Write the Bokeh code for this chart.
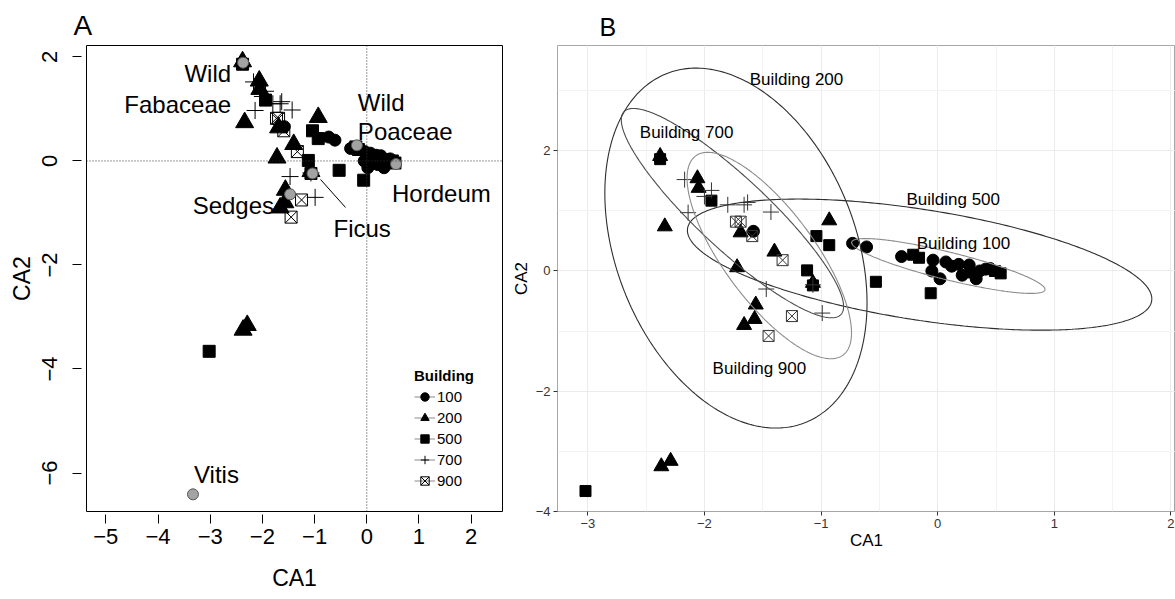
import numpy as np
from bokeh.plotting import figure
from bokeh.models import Range1d, FixedTicker, Span, Legend, LegendItem
from bokeh.layouts import row
from bokeh.embed import file_html
from bokeh.resources import INLINE
from bokeh.core.properties import value

# ---------------- data ----------------
buildings = ["100", "200", "500", "700", "900"]

b100_x = [-1.58, -0.73, -0.61, -0.31, -0.04, -0.05, 0.02, 0.07, 0.12, 0.18, 0.21, 0.27, 0.28, 0.33, 0.36, 0.41, 0.45]
b100_y = [0.66, 0.46, 0.40, 0.24, 0.18, 0.00, -0.13, 0.15, 0.08, 0.11, -0.07, 0.10, -0.02, -0.13, 0.00, 0.03, 0.04]

b200_x = [-2.38, -2.06, -2.05, -2.34, -1.69, -1.40, -1.72, -0.93, -1.07, -1.56, -1.57, -1.66, -2.37, -2.29]
b200_y = [1.91, 1.54, 1.38, 0.74, 0.64, 0.32, 0.06, 0.84, -0.20, -0.56, -0.80, -0.90, -3.25, -3.16]

b500_x = [-2.38, -1.94, -1.04, -0.93, -1.12, -1.07, -0.53, -0.21, -0.16, -0.06, 0.49, 0.54, -3.02]
b500_y = [1.86, 1.17, 0.58, 0.43, 0.01, -0.24, -0.18, 0.27, 0.22, -0.37, 0.00, -0.04, -3.66]

b700_x = [-2.17, -1.94, -2.00, -1.80, -1.66, -1.63, -1.43, -2.14, -1.47, -1.07, -0.99]
b700_y = [1.52, 1.34, 1.24, 1.10, 1.10, 1.14, 0.98, 0.97, -0.30, -0.23, -0.70]

b900_x = [-1.73, -1.69, -1.59, -1.33, -1.25, -1.45]
b900_y = [0.82, 0.82, 0.58, 0.18, -0.75, -1.08]

species = ["Wild Fabaceae", "Wild Poaceae", "Hordeum", "Ficus", "Sedges", "Vitis"]
sp_x = [-2.37, -0.19, 0.56, -1.04, -1.47, -3.33]
sp_y = [1.89, 0.30, -0.06, -0.24, -0.64, -6.41]

# 95% ellipses (panel B): centre, half-extent in x and y, y-shift at the x-extreme
ell_names = ["Building 100", "Building 200", "Building 500", "Building 700", "Building 900"]
ell_cx = [0.091, -1.730, -0.155, -1.760, -1.444]
ell_cy = [0.083, 0.381, 0.106, 0.962, 0.257]
ell_rx = [0.829, 1.124, 1.991, 0.953, 0.705]
ell_ry = [0.456, 2.993, 1.090, 1.741, 1.716]
ell_ky = [-0.390, -0.912, -0.570, -1.552, -1.285]

xticks_a = [-5, -4, -3, -2, -1, 0, 1, 2]
yticks_a = [-6, -4, -2, 0, 2]
xticks_b = [-3, -2, -1, 0, 1, 2]
yticks_b = [-4, -2, 0, 2]

# ---------------- layout / style ----------------
FONT = "Liberation Sans"
W_A, W_B, H = 508, 667, 599

def lab(v):
    return ("\u2212" + str(abs(v))) if v < 0 else str(v)

# species label layout (text, species index, dx px, dy px, align)
sp_labels = [("Wild", 0, -12, 11, "right"), ("Fabaceae", 0, -12, 42, "right"),
             ("Wild", 1, 1, -43, "left"), ("Poaceae", 1, 1, -14, "left"),
             ("Hordeum", 2, -4, 29, "left"), ("Ficus", 3, 21, 55, "left"),
             ("Sedges", 4, -16, 11, "right"), ("Vitis", 5, 1, -20, "left")]
ell_label_x = [0.221, -1.211, 0.133, -2.153, -1.529]
ell_label_y = [0.456, 3.19, 1.181, 2.308, -1.619]
ell_colors = ["#8c8c8c", "#2e2e2e", "#2e2e2e", "#4a4a4a", "#8c8c8c"]

# ================= Panel A =================
xa0, xa1, ya0, ya1 = -5.37, 2.6, -6.74, 2.22
mbl, mbr, mbt, mbb = 86, 6, 45, 88
pa = figure(width=W_A, height=H, x_range=Range1d(xa0, xa1), y_range=Range1d(ya0, ya1),
            output_backend="svg", toolbar_location=None, title="A",
            min_border_left=mbl, min_border_right=mbr, min_border_top=mbt, min_border_bottom=mbb)
pa.title.align = "left"
pa.title.offset = -13
pa.title.text_font = FONT
pa.title.text_font_size = "28px"
pa.title.text_font_style = "normal"
pa.title.text_color = "black"
pa.title.standoff = 9
pa.xgrid.visible = False
pa.ygrid.visible = False
pa.outline_line_color = "black"
pa.outline_line_width = 1

for ax in (pa.xaxis[0], pa.yaxis[0]):
    ax.axis_line_color = None
    ax.minor_tick_line_color = None
    ax.major_tick_line_color = "black"
    ax.major_label_text_font = FONT
    ax.major_label_text_font_size = "22px"
    ax.major_label_text_color = "black"
    ax.axis_label_text_font = FONT
    ax.axis_label_text_font_size = "23px"
    ax.axis_label_text_font_style = "normal"
    ax.axis_label_text_color = "black"

pa.xaxis.ticker = FixedTicker(ticks=xticks_a)
pa.xaxis.major_label_overrides = {t: lab(t) for t in xticks_a}
pa.xaxis.major_tick_in = -3
pa.xaxis.major_tick_out = 12
pa.xaxis.major_label_standoff = 5
pa.xaxis.axis_label = "CA1"
pa.xaxis.axis_label_standoff = 18

pa.yaxis.ticker = FixedTicker(ticks=yticks_a)
pa.yaxis.major_label_overrides = {t: lab(t) for t in yticks_a}
pa.yaxis.major_label_orientation = "vertical"
pa.yaxis.major_tick_in = -5
pa.yaxis.major_tick_out = 14
pa.yaxis.major_label_standoff = 15
pa.yaxis.axis_label = "CA2"
pa.yaxis.axis_label_standoff = 5

pa.add_layout(Span(location=0, dimension="height", line_color="#333333", line_dash="1 2", line_width=1))
pa.add_layout(Span(location=0, dimension="width", line_color="#333333", line_dash="1 2", line_width=1))

ra = []
ra.append(pa.scatter(b100_x, b100_y, marker="circle", size=12, fill_color="black", line_color="black"))
ra.append(pa.scatter(b200_x, b200_y, marker="triangle", size=18, fill_color="black", line_color="black"))
ra.append(pa.scatter(b500_x, b500_y, marker="square", size=12, fill_color="black", line_color="black"))
ra.append(pa.scatter(b700_x, b700_y, marker="cross", size=17, line_color="black", line_width=1))
ra.append(pa.scatter(b900_x, b900_y, marker="square_x", size=12, line_color="black", line_width=1, fill_alpha=0))

# Ficus leader line (pixel offsets converted with the axis scale)
sxa = (W_A - mbl - mbr) / (xa1 - xa0)
sya = (H - mbt - mbb) / (ya1 - ya0)
fx, fy = sp_x[3], sp_y[3]
pa.line([fx + 8 / sxa, fx + 33 / sxa], [fy - 6 / sya, fy - 34 / sya], line_color="black", line_width=1)

pa.scatter(sp_x, sp_y, marker="circle", size=11, fill_color="#a3a3a3", line_color="#555555", line_width=1)

pa.text(x=[sp_x[i] for _, i, _, _, _ in sp_labels], y=[sp_y[i] for _, i, _, _, _ in sp_labels],
        text=[t for t, _, _, _, _ in sp_labels],
        x_offset=[d for _, _, d, _, _ in sp_labels], y_offset=[d for _, _, _, d, _ in sp_labels],
        text_align=[a for _, _, _, _, a in sp_labels], text_baseline="alphabetic",
        text_font=value(FONT), text_font_size="24px", text_color="black")

items = []
for name, r in zip(buildings, ra):
    ln = pa.line(x=[np.nan], y=[np.nan], line_color="#8a8a8a", line_width=1)
    items.append(LegendItem(label=name, renderers=[ln, r]))
legend = Legend(items=items, location=(328, 20), title="Building",
                title_text_font=FONT, title_text_font_size="15px", title_text_font_style="bold",
                title_text_color="black", title_standoff=2,
                label_text_font=FONT, label_text_font_size="15px", label_text_color="black",
                glyph_width=21, glyph_height=21, label_height=21, spacing=0, padding=5, margin=0,
                label_standoff=2, border_line_color=None, background_fill_alpha=0)
pa.add_layout(legend)

# ================= Panel B =================
pb = figure(width=W_B, height=H, x_range=Range1d(-3.26, 2.039), y_range=Range1d(-4.0, 3.75),
            output_backend="svg", toolbar_location=None, title="B",
            min_border_left=47, min_border_right=0, min_border_top=44, min_border_bottom=88)
pb.title.align = "left"
pb.title.offset = 42
pb.title.text_font = FONT
pb.title.text_font_size = "25px"
pb.title.text_font_style = "normal"
pb.title.text_color = "black"
pb.title.standoff = 10
pb.outline_line_color = "#a6a6a6"
pb.outline_line_width = 1

pb.xaxis.ticker = FixedTicker(ticks=xticks_b, minor_ticks=[v / 2 for v in range(-7, 5)])
pb.yaxis.ticker = FixedTicker(ticks=yticks_b, minor_ticks=[-3, -1, 1, 3])
pb.xaxis.major_label_overrides = {t: lab(t) for t in xticks_b}
pb.yaxis.major_label_overrides = {t: lab(t) for t in yticks_b}
for g in (pb.xgrid[0], pb.ygrid[0]):
    g.grid_line_color = "#ebebeb"
    g.grid_line_width = 1
    g.minor_grid_line_color = "#f3f3f3"
    g.minor_grid_line_width = 1

for ax in (pb.xaxis[0], pb.yaxis[0]):
    ax.axis_line_color = None
    ax.minor_tick_line_color = None
    ax.major_tick_line_color = "#333333"
    ax.major_tick_in = 0
    ax.major_tick_out = 4
    ax.major_label_standoff = 3
    ax.major_label_text_font = FONT
    ax.major_label_text_font_size = "13px"
    ax.major_label_text_color = "#333333"
    ax.axis_label_text_font = FONT
    ax.axis_label_text_font_size = "17px"
    ax.axis_label_text_font_style = "normal"
    ax.axis_label_text_color = "black"
pb.xaxis.axis_label = "CA1"
pb.xaxis.axis_label_standoff = 0
pb.yaxis.axis_label = "CA2"
pb.yaxis.axis_label_standoff = 2

pb.scatter(b100_x, b100_y, marker="circle", size=12, fill_color="black", line_color="black")
pb.scatter(b200_x, b200_y, marker="triangle", size=15, fill_color="black", line_color="black")
pb.scatter(b500_x, b500_y, marker="square", size=11, fill_color="black", line_color="black")
pb.scatter(b700_x, b700_y, marker="cross", size=16, line_color="#333333", line_width=1)
pb.scatter(b900_x, b900_y, marker="square_x", size=11, line_color="#333333", line_width=1, fill_alpha=0)

t = np.linspace(0, 2 * np.pi, 361)
for cx, cy, rx, ry, ky, col in zip(ell_cx, ell_cy, ell_rx, ell_ry, ell_ky, ell_colors):
    ex = cx + rx * np.cos(t)
    ey = cy + ky * np.cos(t) + np.sqrt(ry ** 2 - ky ** 2) * np.sin(t)
    pb.line(ex, ey, line_color=col, line_width=1.1)

pb.text(x=ell_label_x, y=ell_label_y, text=ell_names, text_align="center", text_baseline="alphabetic",
        text_font=value(FONT), text_font_size="17px", text_color="black")

layout = row(pa, pb)
open("out.html", "w").write(file_html(layout, INLINE))
